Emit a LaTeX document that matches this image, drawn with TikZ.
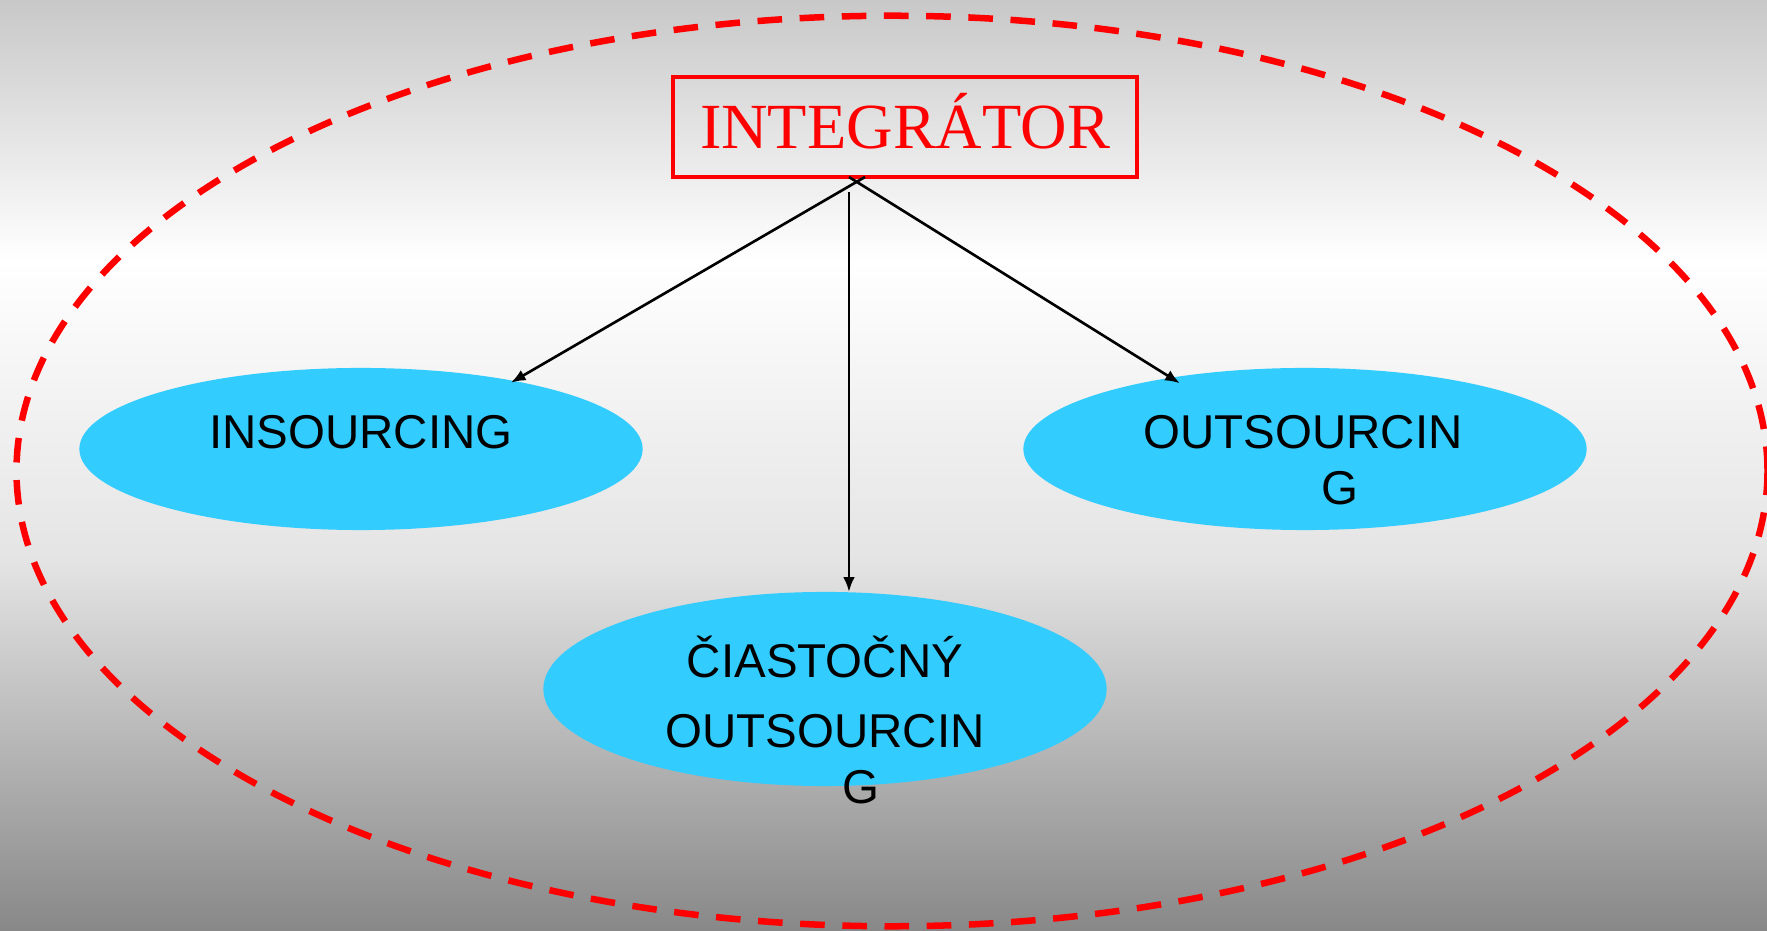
\documentclass[tikz,border=0pt]{standalone}
\usepackage{fontspec}
\setmainfont{Liberation Sans}
\newfontfamily\serifrm{Liberation Serif}
\usetikzlibrary{shapes.geometric,arrows.meta}
\definecolor{bubblefill}{HTML}{33CCFF}
\definecolor{bgtop}{HTML}{C8C8C8}
\definecolor{bgmid}{HTML}{E4E4E4}
\definecolor{bgbot}{HTML}{888888}
\begin{document}
\begin{tikzpicture}[x=0.01cm,y=-0.01cm,
  bubble/.style={ellipse, fill=bubblefill, minimum width=5.63cm, minimum height=1.62cm, inner sep=0pt, outer sep=0pt},
  lbl/.style={anchor=base, inner sep=0pt, font=\fontsize{13.5}{16}\selectfont},
  conn/.style={draw=black, line width=0.75pt, -{Latex[length=4.2pt,width=3.3pt]}},
  topbox/.style={draw=red, line width=1.14pt, minimum width=4.64cm, minimum height=1.0cm, inner sep=0pt, outer sep=0pt,
    text=red, font=\serifrm\fontsize{18.3}{22}\selectfont, text height=0.43cm, text depth=0pt},
  frame/.style={draw=red, line width=1.85pt, dash pattern=on 7pt off 5pt}]
\path[use as bounding box] (0,0) rectangle (1767,931);
\clip (0,0) rectangle (1767,931);
% background gradient
\shade[top color=bgtop, bottom color=white] (0,0) rectangle (1767,261);
\shade[top color=white, bottom color=bgmid] (0,260) rectangle (1767,561);
\shade[top color=bgmid, bottom color=bgbot] (0,560) rectangle (1767,931);
% dashed frame
\draw[frame] (892,471) ellipse [x radius=8.75cm, y radius=4.55cm];
% nodes
\node[topbox] (int) at (905,127) {INTEGRÁTOR};
\node[bubble] (ins) at (361,449) {};
\node[bubble] (out) at (1305,449) {};
\node[bubble, minimum height=1.94cm] (cia) at (825,689) {};
% labels
\node[lbl] (insT) at (361,449) {INSOURCING};
\node[lbl] (outT1) at (1303,449) {OUTSOURCIN};
\node[lbl] (outT2) at (1340,505) {G};
\node[lbl] (ciaT1) at (825,677) {ČIASTOČNÝ};
\node[lbl] (ciaT2) at (825,747) {OUTSOURCIN};
\node[lbl] (ciaT3) at (861,803) {G};
% connectors
\coordinate (s1) at ([xshift=-0.40cm]int.south);
\coordinate (s2) at ([xshift=-0.56cm]int.south);
\coordinate (s3) at ([xshift=-0.56cm,yshift=-0.15cm]int.south);
\draw[conn, shorten >=-1pt] (s1) -- (ins.24);
\draw[conn, shorten >=-3pt] (s2) -- (out.152);
\draw[conn] (s3) -- (s3 |- cia.north);
\end{tikzpicture}
\end{document}
